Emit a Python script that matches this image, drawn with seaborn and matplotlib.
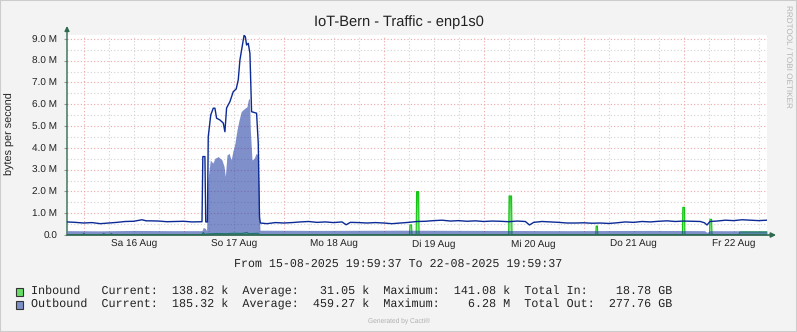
import numpy as np
import pandas as pd
import matplotlib
matplotlib.use("Agg")
import matplotlib.pyplot as plt
import matplotlib.dates as mdates
from matplotlib.patches import Rectangle
from matplotlib.colors import LinearSegmentedColormap
from matplotlib.ticker import FuncFormatter, MultipleLocator
import seaborn as sns

# ---------------- data (hours since start, values in M bytes/s) ----------------
start_time = "2025-08-15 19:59:37"
end_time = "2025-08-22 19:59:37"

max_out_hours = [0, 2, 4, 6, 8, 10, 12, 14, 16, 18, 19, 20, 22, 24, 26, 28, 30, 32.4,
                 32.6, 33.1, 33.3, 33.7, 33.9, 34.5, 35.1, 35.5, 35.9, 36.7, 37.5, 37.9,
                 38.3, 39.1, 39.9, 40.6, 41.1, 41.5, 41.9, 42.5, 42.8, 43.1, 43.5, 43.9,
                 44.3, 45.5, 45.9, 46.2, 46.4,
                 48, 50, 52, 54, 56, 58, 60, 62, 64, 66, 67, 68, 70, 72, 74, 76, 78, 80,
                 82, 84, 86, 88, 90, 92, 94, 96, 98, 100, 102, 104, 106, 108, 110, 111,
                 112, 114, 116, 118, 120, 122, 124, 126, 128, 130, 132, 134, 136, 138,
                 140, 142, 144, 146, 148, 150, 152, 153, 153.6, 154.3, 156, 158, 160,
                 162, 164, 166, 168]
max_out_values = [0.60, 0.58, 0.55, 0.57, 0.52, 0.55, 0.58, 0.62, 0.63, 0.70, 0.65, 0.65,
                  0.64, 0.61, 0.62, 0.63, 0.60, 0.61,
                  3.60, 3.60, 0.60, 0.60, 4.51, 5.51, 5.82, 5.82, 5.36, 5.28, 5.14, 4.74,
                  5.83, 6.12, 6.58, 6.70, 7.12, 8.03, 8.49, 9.17, 9.10, 8.72, 8.80, 8.34,
                  5.66, 5.59, 4.21, 0.80, 0.55,
                  0.52, 0.57, 0.55, 0.57, 0.60, 0.62, 0.58, 0.60, 0.57, 0.60, 0.47, 0.58,
                  0.57, 0.55, 0.57, 0.55, 0.52, 0.55, 0.58, 0.62, 0.63, 0.66, 0.68, 0.64,
                  0.66, 0.63, 0.65, 0.62, 0.64, 0.63, 0.61, 0.64, 0.62, 0.46,
                  0.58, 0.62, 0.60, 0.58, 0.55, 0.55, 0.56, 0.54, 0.55, 0.53, 0.56, 0.60,
                  0.58, 0.62, 0.60, 0.63, 0.65, 0.62, 0.64, 0.63, 0.62, 0.56, 0.46, 0.62,
                  0.64, 0.68, 0.66, 0.70, 0.68, 0.66, 0.68]

outbound_hours = [0, 8, 16, 24, 32.4, 32.7, 33.2, 33.5, 33.8, 34.4, 35.0, 35.5, 36.3, 37.2,
                  37.7, 38.0, 38.4, 38.9, 39.4, 39.8, 40.3, 40.8, 41.3, 41.8, 42.2, 42.7,
                  43.2, 43.5, 43.8, 44.0, 44.4, 44.9, 45.4, 45.8, 46.1, 46.3, 60, 80,
                  100, 120, 140, 153, 153.6, 154.3, 168]
outbound_values = [0.20, 0.19, 0.21, 0.20, 0.20, 0.35, 0.30, 0.20, 2.50, 3.44, 3.30, 3.52,
                   3.60, 3.44, 3.14, 2.68, 3.67, 3.75, 3.44, 3.83, 4.21, 4.82, 5.28, 5.66,
                   5.74, 5.82, 5.89, 6.20, 6.28, 4.82, 3.44, 3.52, 3.75, 3.67, 2.00, 0.22,
                   0.21, 0.22, 0.21, 0.20, 0.21, 0.20, 0.12, 0.20, 0.19]

inbound_hours = [0, 3.8, 4.0, 4.3, 8.6, 8.8, 9.1, 10.4, 10.6, 10.9, 32.4, 32.7, 33.1, 33.8,
                 36, 38, 40, 42, 43.2, 43.6, 45.8, 46.3, 82.2, 82.3, 82.7, 82.8, 83.8,
                 83.9, 84.4, 84.5, 106.0, 106.1, 106.7, 106.8, 126.9, 127.0, 127.3, 127.4,
                 147.7, 147.8, 148.2, 148.3, 154.2, 154.3, 154.7, 154.8, 161.3, 161.5, 168]
inbound_values = [0.02, 0.02, 0.08, 0.02, 0.02, 0.07, 0.02, 0.02, 0.07, 0.02, 0.02, 0.12,
                  0.03, 0.05, 0.07, 0.06, 0.08, 0.07, 0.12, 0.06, 0.08, 0.02, 0.02, 0.46,
                  0.46, 0.02, 0.02, 1.99, 1.99, 0.02, 0.02, 1.79, 1.79, 0.02, 0.02, 0.41,
                  0.41, 0.02, 0.02, 1.27, 1.27, 0.02, 0.02, 0.72, 0.72, 0.02, 0.02, 0.14,
                  0.14]

day_abbr = ["Mo", "Di", "Mi", "Do", "Fr", "Sa", "So"]
series_names = ["Inbound", "Outbound"]
current_vals = ["138.82 k", "185.32 k"]
average_vals = ["31.05 k", "459.27 k"]
maximum_vals = ["141.08 k", "6.28 M"]
total_labels = ["Total In:", "Total Out:"]
total_vals = ["18.78 GB", "277.76 GB"]

title = "IoT-Bern - Traffic - enp1s0"
y_label = "bytes per second"

# ---------------- styling ----------------
sns.set_theme(style="white")
plt.rcParams["font.family"] = ["Liberation Sans", "DejaVu Sans"]
plt.rcParams["text.hinting"] = "none"

t0 = pd.Timestamp(start_time)
t1 = pd.Timestamp(end_time)

def to_time(hours):
    return t0 + pd.to_timedelta(np.array(hours, dtype=float), unit="h")

df_max = pd.DataFrame({"time": to_time(max_out_hours), "value": max_out_values})
df_out = pd.DataFrame({"time": to_time(outbound_hours), "value": outbound_values})
df_in = pd.DataFrame({"time": to_time(inbound_hours), "value": inbound_values})

fig = plt.figure(figsize=(7.97, 3.32), dpi=100, facecolor="#F3F3F3")
ax = fig.add_axes([67 / 797, 97 / 332, 700 / 797, 200 / 332])
ax.set_facecolor("white")

# grid
major_red = "#EDA8A8"
minor_grey = "#D2D2D2"
ymax = 9.18
ax.yaxis.set_major_locator(MultipleLocator(1.0))
ax.yaxis.set_minor_locator(MultipleLocator(0.5))
ax.xaxis.set_major_locator(mdates.HourLocator(byhour=[12]))
ax.xaxis.set_minor_locator(mdates.HourLocator(byhour=[6, 18]))
ax.grid(True, which="major", axis="y", color=major_red, linestyle=(0, (1, 2)), lw=0.8)
ax.grid(True, which="minor", axis="y", color=minor_grey, linestyle=(0, (1, 2)), lw=0.8)
ax.grid(True, which="both", axis="x", color=minor_grey, linestyle=(0, (1, 2)), lw=0.8)
for d in mdates.DayLocator().tick_values(t0, t1):
    ax.axvline(mdates.num2date(d), color=major_red, linestyle=(0, (1, 2)), lw=0.8, zorder=0.6)
ax.set_axisbelow(True)

# inbound area with vertical gradient
poly = ax.fill_between(df_in["time"], df_in["value"], facecolor="none", lw=0, zorder=2)
grad_cmap = LinearSegmentedColormap.from_list("ing", ["#A8EBA8", "#6EDC6E", "#14C814"])
grad = np.linspace(0, 1, 256).reshape(-1, 1)
x0n, x1n = mdates.date2num(t0), mdates.date2num(t1)
im = ax.imshow(grad, extent=[x0n, x1n, 0, 2.0], origin="lower", aspect="auto",
               cmap=grad_cmap, zorder=2, interpolation="bilinear")
im.set_clip_path(poly.get_paths()[0], transform=ax.transData)
ax.plot(df_in["time"], df_in["value"], color="#10C410", lw=0.8, zorder=2.1)

# outbound area and max line
ax.fill_between(df_out["time"], df_out["value"], color="#2944A8", alpha=0.6, lw=0, zorder=3)
sns.lineplot(data=df_max, x="time", y="value", color="#0B2A96", lw=1.0, ax=ax, zorder=4)

ax.set_xlim(t0, t1)
ax.set_ylim(0, ymax)

# axes
for s in ax.spines.values():
    s.set_visible(False)
axis_col = "#2F6A50"
ax.annotate("", xy=(0, 1.045), xytext=(0, 0), xycoords="axes fraction",
            arrowprops=dict(arrowstyle="-|>", color=axis_col, lw=1, mutation_scale=7,
                            shrinkA=0, shrinkB=0), annotation_clip=False)
ax.annotate("", xy=(1.013, 0), xytext=(0, 0), xycoords="axes fraction",
            arrowprops=dict(arrowstyle="-|>", color=axis_col, lw=1.2, mutation_scale=7,
                            shrinkA=0, shrinkB=0), annotation_clip=False)

ax.yaxis.set_major_formatter(FuncFormatter(lambda v, p: "0.0" if abs(v) < 1e-9 else f"{v:.1f} M"))
ax.xaxis.set_major_formatter(FuncFormatter(
    lambda v, p: f"{day_abbr[mdates.num2date(v).weekday()]} {mdates.num2date(v).day} Aug"))
ax.tick_params(axis="y", which="major", length=2, width=0.8, color="#999999", pad=5,
               labelsize=7.2, labelcolor="#222222", left=True)
ax.tick_params(axis="y", which="minor", length=0)
ax.tick_params(axis="x", which="both", length=0, pad=3.5, labelsize=7.2, labelcolor="#222222")
ax.set_xlabel("")
ax.set_ylabel("")

# texts
fig.text(0.5, 1 - 22.5 / 332, title, ha="center", va="center", fontsize=10.5, color="#222222")
fig.text(10 / 797, 1 - 134 / 332, y_label, rotation=90, ha="center", va="center",
         fontsize=7.8, color="#222222")
fig.text(788 / 797, 1 - 5 / 332, "RRDTOOL / TOBI OETIKER", rotation=270, ha="center",
         va="top", fontsize=5.9, color="#B4B4B4")

mono = ["Liberation Mono", "DejaVu Sans Mono"]
fig.text(398.3 / 797, 1 - 266.7 / 332, f"From {t0:%d-%m-%Y %H:%M:%S} To {t1:%d-%m-%Y %H:%M:%S}",
         ha="center", va="baseline", family=mono, fontsize=8.4, color="#222222")

legend_cols = ["#66DD66", "#7B8FC8"]
row_base = [294.5, 308.0]
row_top = [288.0, 301.0]
for i in range(2):
    s = (f"{series_names[i]:<10}Current:{current_vals[i]:>10}  Average:{average_vals[i]:>10}"
         f"  Maximum:{maximum_vals[i]:>10}  {total_labels[i]}"
         f"{total_vals[i]:>{21 - len(total_labels[i])}}")
    fig.text(30.5 / 797, 1 - row_base[i] / 332, s, ha="left", va="baseline", family=mono,
             fontsize=8.5, color="#222222")
    fig.patches.append(Rectangle((15.5 / 797, 1 - (row_top[i] + 8) / 332), 7.5 / 797, 8 / 332,
                                 transform=fig.transFigure, facecolor=legend_cols[i],
                                 edgecolor="#333333", lw=0.8))

fig.text(0.5, 1 - 321 / 332, "Generated by Cacti®", ha="center", va="center", fontsize=4.8,
         color="#B0B0B0")

fig.patches.append(Rectangle((0, 0), 1, 1, transform=fig.transFigure, fill=False,
                             edgecolor="#CCCCCC", lw=1.5))

fig.savefig("out.png", dpi=100, facecolor=fig.get_facecolor())
